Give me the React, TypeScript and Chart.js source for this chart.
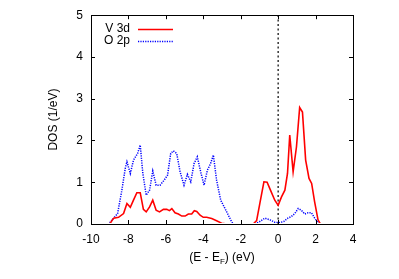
import { useEffect, useRef } from "react";
import { Chart, registerables } from "chart.js";
Chart.register(...registerables);

// V 3d partial DOS
const energyV = [-10, -9.0, -8.79, -8.53, -8.26, -8.08, -7.9, -7.73, -7.55, -7.37, -7.2, -7.05, -6.87, -6.7, -6.52, -6.34, -6.13, -5.95, -5.81, -5.68, -5.51, -5.33, -5.15, -4.97, -4.8, -4.62, -4.48, -4.35, -4.17, -4.0, -3.82, -3.55, -3.29, -3.02, -2.75, -1.33, -1.15, -0.98, -0.76, -0.59, -0.41, -0.18, 0.0, 0.18, 0.36, 0.5, 0.62, 0.8, 0.98, 1.15, 1.3, 1.47, 1.65, 1.79, 1.95, 2.13, 2.26, 4];
const dosV = [0, 0, 0.14, 0.16, 0.25, 0.49, 0.4, 0.57, 0.75, 0.75, 0.35, 0.29, 0.41, 0.57, 0.33, 0.29, 0.35, 0.35, 0.32, 0.37, 0.27, 0.24, 0.19, 0.19, 0.24, 0.24, 0.32, 0.3, 0.21, 0.16, 0.16, 0.13, 0.08, 0.02, 0, 0, 0.08, 0.49, 1.01, 1.0, 0.81, 0.57, 0.45, 0.65, 0.81, 1.21, 2.13, 1.25, 1.85, 2.79, 2.68, 1.53, 1.09, 0.97, 0.53, 0.1, 0, 0];

// O 2p partial DOS
const energyO = [-10, -9.06, -8.79, -8.58, -8.35, -8.17, -8.08, -7.9, -7.73, -7.51, -7.37, -7.23, -7.05, -6.87, -6.7, -6.52, -6.31, -6.09, -5.91, -5.74, -5.6, -5.42, -5.24, -5.03, -4.85, -4.67, -4.49, -4.32, -4.14, -3.96, -3.78, -3.61, -3.46, -3.29, -3.07, -2.84, -2.66, -2.49, -2.4, -1.24, -0.98, -0.71, -0.44, -0.18, 0.05, 0.3, 0.52, 0.71, 0.89, 1.07, 1.24, 1.42, 1.6, 1.78, 1.95, 2.13, 2.22, 4];
const dosO = [0, 0, 0.14, 0.25, 0.81, 1.33, 1.49, 1.21, 1.53, 1.69, 1.89, 1.21, 0.69, 0.81, 1.27, 0.93, 0.93, 1.05, 1.17, 1.69, 1.75, 1.69, 1.25, 0.93, 1.19, 1.01, 1.45, 1.61, 1.25, 0.93, 1.29, 1.45, 1.65, 1.05, 0.57, 0.37, 0.21, 0.06, 0, 0, 0.06, 0.14, 0.1, 0.04, 0.03, 0.06, 0.14, 0.18, 0.25, 0.37, 0.33, 0.24, 0.27, 0.27, 0.14, 0.03, 0, 0];

// Fermi level marker
const fermiX = [0, 0];
const fermiY = [0, 5];

const xTicks = [-10, -8, -6, -4, -2, 0, 2, 4];
const yTicks = [0, 1, 2, 3, 4, 5];

const seriesLabels = ["V 3d", "O 2p"];
const yTitle = "DOS (1/eV)";
const xTitleParts = ["(E - E", "F", ") (eV)"];

const FAMILY = "'Liberation Sans', Arial, Helvetica, sans-serif";

const toPts = (xs: number[], ys: number[]) => xs.map((x, i) => ({ x, y: ys[i] }));

export default function App() {
  const ref = useRef<HTMLCanvasElement>(null);
  useEffect(() => {
    document.body.style.margin = "0";
    const framePlugin = {
      id: "gnuframe",
      afterDatasetsDraw(chart: any) {
        const ctx = chart.ctx as CanvasRenderingContext2D;
        const { left, right, top, bottom } = chart.chartArea;
        const xs = chart.scales.x;
        const ys = chart.scales.y;
        ctx.save();
        ctx.strokeStyle = "#000";
        ctx.lineWidth = 1;
        // inward ticks
        ctx.beginPath();
        xs.ticks.forEach((t: any) => {
          const px = Math.round(xs.getPixelForValue(t.value)) + 0.5;
          ctx.moveTo(px, bottom);
          ctx.lineTo(px, bottom - 4);
          ctx.moveTo(px, top);
          ctx.lineTo(px, top + 4);
        });
        ys.ticks.forEach((t: any) => {
          const py = Math.round(ys.getPixelForValue(t.value)) + 0.5;
          ctx.moveTo(left, py);
          ctx.lineTo(left + 4, py);
          ctx.moveTo(right, py);
          ctx.lineTo(right - 4, py);
        });
        ctx.stroke();
        // frame
        ctx.strokeRect(Math.round(left) + 0.5, Math.round(top) + 0.5, Math.round(right - left), Math.round(bottom - top));

        // legend
        ctx.font = `12px ${FAMILY}`;
        ctx.fillStyle = "#000";
        ctx.textAlign = "right";
        ctx.textBaseline = "middle";
        const legendY = [29, 41];
        [0, 1].forEach((i) => {
          const ds = chart.data.datasets[i];
          ctx.fillText(ds.label, 130, legendY[i]);
          ctx.save();
          ctx.strokeStyle = ds.borderColor;
          ctx.lineWidth = ds.borderWidth;
          ctx.setLineDash(ds.borderDash || []);
          ctx.beginPath();
          ctx.moveTo(138, legendY[i] + 0.5);
          ctx.lineTo(173, legendY[i] + 0.5);
          ctx.stroke();
          ctx.restore();
        });

        // x title with subscript
        const big = `12px ${FAMILY}`;
        const small = `8px ${FAMILY}`;
        ctx.textAlign = "left";
        ctx.textBaseline = "alphabetic";
        ctx.font = big;
        const w0 = ctx.measureText(xTitleParts[0]).width;
        const w2 = ctx.measureText(xTitleParts[2]).width;
        ctx.font = small;
        const w1 = ctx.measureText(xTitleParts[1]).width;
        const cx = (left + right) / 2;
        let x = cx - (w0 + w1 + w2) / 2;
        const base = 260.5;
        ctx.font = big;
        ctx.fillText(xTitleParts[0], x, base);
        x += w0;
        ctx.font = small;
        ctx.fillText(xTitleParts[1], x, base + 3);
        x += w1;
        ctx.font = big;
        ctx.fillText(xTitleParts[2], x, base);
        ctx.restore();
      },
    };

    const hideBaseline = { left: 0, top: 0, right: 0, bottom: -1 };

    const chart = new Chart(ref.current!, {
      type: "line",
      data: {
        datasets: [
          {
            label: seriesLabels[0],
            data: toPts(energyV, dosV),
            borderColor: "#ff0000",
            borderWidth: 1.6,
            pointRadius: 0,
            tension: 0,
            fill: false,
            clip: hideBaseline,
          },
          {
            label: seriesLabels[1],
            data: toPts(energyO, dosO),
            borderColor: "#0000ff",
            borderWidth: 1.5,
            borderDash: [1.2, 1.2],
            pointRadius: 0,
            tension: 0,
            fill: false,
            clip: hideBaseline,
          },
          {
            label: "E_F",
            data: toPts(fermiX, fermiY),
            borderColor: "#000000",
            borderWidth: 1.2,
            borderDash: [2, 2.5],
            pointRadius: 0,
            fill: false,
          },
        ],
      },
      options: {
        animation: false,
        responsive: false,
        maintainAspectRatio: false,
        layout: { padding: { left: 40, right: 46, top: 14, bottom: 0 } },
        plugins: { legend: { display: false }, tooltip: { enabled: false } },
        scales: {
          x: {
            type: "linear",
            min: -10,
            max: 4,
            afterBuildTicks: (s: any) => {
              s.ticks = xTicks.map((v) => ({ value: v }));
            },
            afterFit: (s: any) => {
              s.height = 55;
            },
            grid: { display: false, drawTicks: false },
            border: { display: false },
            ticks: {
              padding: 8,
              color: "#000",
              font: { family: FAMILY, size: 12 },
              maxRotation: 0,
              autoSkip: false,
            },
          },
          y: {
            type: "linear",
            min: 0,
            max: 5,
            afterBuildTicks: (s: any) => {
              s.ticks = yTicks.map((v) => ({ value: v }));
            },
            afterFit: (s: any) => {
              s.width = 51;
            },
            grid: { display: false, drawTicks: false },
            border: { display: false },
            ticks: {
              padding: 8,
              color: "#000",
              font: { family: FAMILY, size: 12 },
            },
            title: {
              display: true,
              text: yTitle,
              color: "#000",
              font: { family: FAMILY, size: 12 },
              padding: { top: 6, bottom: 0 },
            },
          },
        },
      },
      plugins: [framePlugin],
    });
    return () => chart.destroy();
  }, []);
  return (
    <div style={{ width: 399, height: 279 }}>
      <canvas ref={ref} width={399} height={279} style={{ display: "block" }} />
    </div>
  );
}
